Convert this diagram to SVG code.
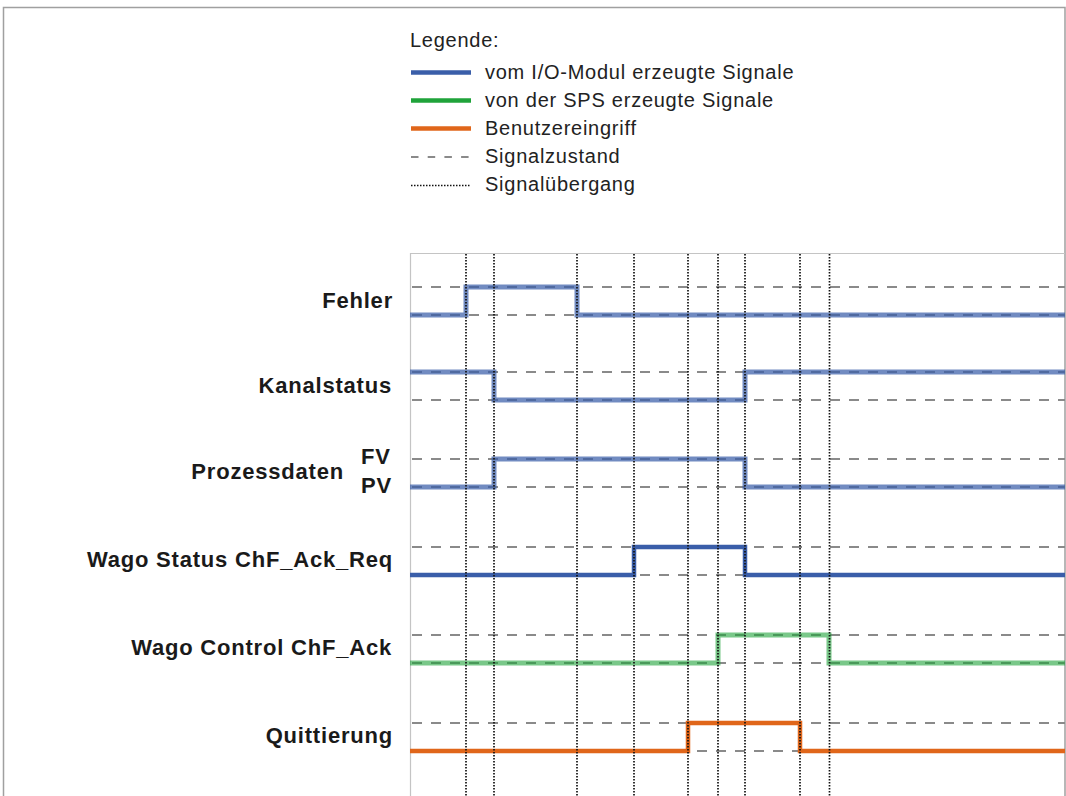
<svg xmlns="http://www.w3.org/2000/svg" width="1066" height="796" viewBox="0 0 1066 796">
  <style>
    .lbl { font-family: "Liberation Sans", Arial, sans-serif; font-weight: bold; font-size: 22px; letter-spacing: 0.8px; fill: #1a1a1a; }
    .leg { font-family: "Liberation Sans", Arial, sans-serif; font-size: 20px; letter-spacing: 0.75px; fill: #222; }
    .state { stroke: #8a8a8a; stroke-width: 2; stroke-dasharray: 10 9; fill: none; }
    .trans { stroke: #111; stroke-width: 1.7; stroke-dasharray: 1.6 1.4; fill: none; }
    .blue { stroke: #3a5ea9; stroke-width: 4.5; fill: none; }
    .bluet { stroke: #3a5ea9; stroke-width: 5; stroke-opacity: 0.72; fill: none; }
    .green { stroke: #1fa33a; stroke-width: 4.5; fill: none; }
    .greent { stroke: #1fa33a; stroke-width: 5; stroke-opacity: 0.6; fill: none; }
    .orange { stroke: #e0661a; stroke-width: 4.5; fill: none; }
  </style>
  <rect width="1066" height="796" fill="#ffffff"/>
  <!-- outer frame -->
  <path d="M3.5,800 V7.5 H1065 V800" fill="none" stroke="#a0a0a0" stroke-width="1.5"/>

  <!-- legend -->
  <g id="legend">
    <text class="leg" x="410" y="47">Legende:</text>
    <line x1="411" y1="72.5" x2="471" y2="72.5" class="blue" stroke-width="4"/>
    <text class="leg" x="485" y="78.5">vom I/O-Modul erzeugte Signale</text>
    <line x1="411" y1="100.5" x2="471" y2="100.5" class="green" stroke-width="4"/>
    <text class="leg" x="485" y="106.5">von der SPS erzeugte Signale</text>
    <line x1="411" y1="128.5" x2="471" y2="128.5" class="orange" stroke-width="4"/>
    <text class="leg" x="485" y="134.5">Benutzereingriff</text>
    <line x1="411" y1="157" x2="471" y2="157" stroke="#8a8a8a" stroke-width="2" stroke-dasharray="7.5 9.2"/>
    <text class="leg" x="485" y="162.5">Signalzustand</text>
    <line x1="411" y1="185.5" x2="471" y2="185.5" stroke="#111" stroke-width="1.5" stroke-dasharray="1.5 1.5"/>
    <text class="leg" x="485" y="190.5">Signalübergang</text>
  </g>

  <!-- chart frame -->
  <path d="M410.5,800 V253.5 H1065" fill="none" stroke="#c4c4c4" stroke-width="1.2"/>

  <!-- state (dashed) lines -->
  <g id="states">
    <line class="state" x1="412" y1="287" x2="1065" y2="287"/>
    <line class="state" x1="412" y1="315" x2="1065" y2="315"/>
    <line class="state" x1="412" y1="372" x2="1065" y2="372"/>
    <line class="state" x1="412" y1="400" x2="1065" y2="400"/>
    <line class="state" x1="412" y1="459" x2="1065" y2="459"/>
    <line class="state" x1="412" y1="487" x2="1065" y2="487"/>
    <line class="state" x1="412" y1="547" x2="1065" y2="547"/>
    <line class="state" x1="412" y1="575" x2="1065" y2="575"/>
    <line class="state" x1="412" y1="635" x2="1065" y2="635"/>
    <line class="state" x1="412" y1="663" x2="1065" y2="663"/>
    <line class="state" x1="412" y1="723" x2="1065" y2="723"/>
    <line class="state" x1="412" y1="751" x2="1065" y2="751"/>
  </g>

  <g id="fehler">
    <text class="lbl" x="393" y="308" text-anchor="end">Fehler</text>
    <path class="bluet" d="M410,315 H466 V287 H577 V315 H1065"/>
  </g>
  <g id="kanalstatus">
    <text class="lbl" x="392" y="393" text-anchor="end">Kanalstatus</text>
    <path class="bluet" d="M410,372 H494 V400 H745 V372 H1065"/>
  </g>
  <g id="prozessdaten">
    <text class="lbl" x="344" y="479" text-anchor="end">Prozessdaten</text>
    <text class="lbl" x="361" y="464">FV</text>
    <text class="lbl" x="361" y="493">PV</text>
    <path class="bluet" d="M410,487 H494 V459 H745 V487 H1065"/>
  </g>
  <g id="wago-status">
    <text class="lbl" x="393" y="567" text-anchor="end">Wago Status ChF_Ack_Req</text>
    <path class="blue" d="M410,575 H634 V547 H745 V575 H1065"/>
  </g>
  <g id="wago-control">
    <text class="lbl" x="392" y="655" text-anchor="end">Wago Control ChF_Ack</text>
    <path class="greent" d="M410,663 H718 V635 H829 V663 H1065"/>
  </g>
  <g id="quittierung">
    <text class="lbl" x="393" y="743" text-anchor="end">Quittierung</text>
    <path class="orange" d="M410,751 H688 V723 H800 V751 H1065"/>
  </g>

  <!-- transitions (dotted) -->
  <g id="connectors">
    <line class="trans" x1="466" y1="254" x2="466" y2="796"/>
    <line class="trans" x1="494" y1="254" x2="494" y2="796"/>
    <line class="trans" x1="577" y1="254" x2="577" y2="796"/>
    <line class="trans" x1="634" y1="254" x2="634" y2="796"/>
    <line class="trans" x1="688" y1="254" x2="688" y2="796"/>
    <line class="trans" x1="718" y1="254" x2="718" y2="796"/>
    <line class="trans" x1="745" y1="254" x2="745" y2="796"/>
    <line class="trans" x1="800" y1="254" x2="800" y2="796"/>
    <line class="trans" x1="829.5" y1="254" x2="829.5" y2="796"/>
  </g>
</svg>
